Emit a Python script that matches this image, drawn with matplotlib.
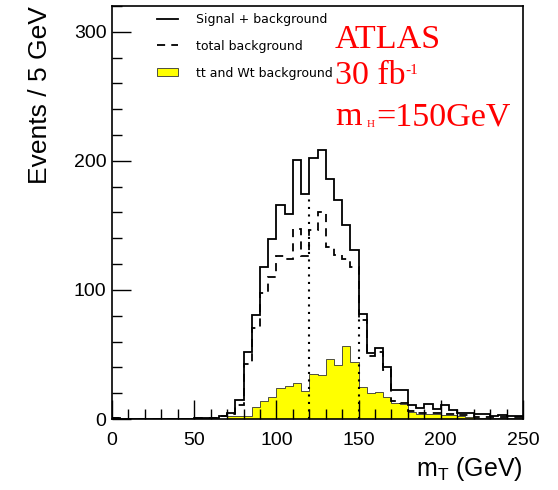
import numpy as np
import matplotlib
matplotlib.use("Agg")
import matplotlib.pyplot as plt
from matplotlib.ticker import MultipleLocator

# 5 GeV bins, 0 - 250 GeV
edges = np.arange(0, 255, 5)

sig_bkg = [1.0, 0, 0, 0, 0, 0, 0, 0, 0, 0,
           1.0, 1.0, 0.5, 2.5, 4.5, 15, 52, 80.5, 118, 139.5,
           166, 159, 201, 174, 202, 208.5, 186, 169.5, 150, 131,
           81, 51, 55, 40.5, 22.5, 22.5, 10.8, 8.3, 11.6, 7.5,
           10.8, 7, 4.9, 4.4, 3.6, 3.6, 2.3, 3, 2.3, 2.3]

tot_bkg = [1.0, 0, 0, 0, 0, 0, 0, 0, 0, 0,
           1.0, 1.0, 0.5, 2, 3.5, 10.8, 43, 70.8, 98, 110,
           126, 124, 147, 126, 146.5, 160, 133, 127, 124, 118,
           76.7, 49, 52, 38, 14, 12.5, 6, 4.4, 4.4, 4.4,
           4, 4, 3, 3, 1.8, 1.8, 1.5, 1.5, 1.5, 1.5]

tt_wt = [0, 0, 0, 0, 0, 0, 0, 0, 0, 0,
         1.0, 1.0, 0, 0, 2, 2.6, 2.6, 9, 14, 17.3,
         23.8, 25.7, 27.6, 22, 34.9, 34, 46.5, 41.9, 56.8, 44.4,
         25, 19.9, 21.2, 16.8, 12.6, 11.6, 5.7, 4, 4, 4,
         3, 3, 2, 1.5, 1, 1, 0.5, 0.5, 0.5, 0.5]

window = [120, 150]

fig = plt.figure(figsize=(5.58, 4.90), dpi=100)
ax = fig.add_axes([112/558, 1 - 419/490, 411/558, 413/490])

h_tt = ax.stairs(tt_wt, edges, fill=True, facecolor="#ffff00", edgecolor="#333333",
                 linewidth=0.6, label="tt and Wt background")
h_bkg = ax.stairs(tot_bkg, edges, color="black", linewidth=1.3,
                  linestyle=(0, (4.5, 3.4)), label="total background")
h_sb = ax.stairs(sig_bkg, edges, color="black", linewidth=1.3,
                 label="Signal + background")

# dotted mass window lines up to the lower neighbouring bin
sb = np.array(sig_bkg)
for w in window:
    i = int(w // 5)
    ax.vlines(w, 0, min(sb[i - 1], sb[i]), color="black", linewidth=1.5,
              linestyle=(0, (1.0, 2.6)))

ax.set_xlim(0, 250)
ax.set_ylim(0, 320)
ax.xaxis.set_major_locator(MultipleLocator(50))
ax.xaxis.set_minor_locator(MultipleLocator(10))
ax.yaxis.set_major_locator(MultipleLocator(100))
ax.yaxis.set_minor_locator(MultipleLocator(20))
ax.tick_params(which="both", direction="in", top=False, right=False)
ax.tick_params(which="major", length=14, width=1.0, labelsize=14)
ax.tick_params(which="minor", length=7.5, width=1.0)
ax.tick_params(axis="x", which="major", pad=9)
ax.tick_params(axis="y", which="major", pad=4)
for lab in ax.get_xticklabels() + ax.get_yticklabels():
    lab.set_family("Liberation Sans")
for s in ax.spines.values():
    s.set_linewidth(1.2)

ax.set_ylabel("Events / 5 GeV", loc="top", fontsize=19, family="Liberation Sans", labelpad=16)
ax.set_xlabel(r"m$_\mathregular{T}$ (GeV)", loc="right", fontsize=18,
              family="Liberation Sans", labelpad=5)

leg = ax.legend(handles=[h_sb, h_bkg, h_tt], loc="upper left",
                bbox_to_anchor=((157 - 112) / 411, (419 - 13) / 413),
                frameon=False, prop={"family": "DejaVu Sans", "size": 9},
                handlelength=1.7, handletextpad=1.45, labelspacing=1.1,
                borderpad=0, borderaxespad=0)

red = "#ff0000"
serif = "Liberation Serif"
x0 = (335 - 112) / 411
ax.text(x0, (419 - 48) / 413, "ATLAS", transform=ax.transAxes, color=red,
        fontsize=24.5, family=serif, va="baseline")
y2 = (419 - 84) / 413
t30 = ax.text(x0, y2, "30 fb", transform=ax.transAxes, color=red,
              fontsize=24.5, family=serif, va="baseline")
ax.annotate("-1", xy=(1, y2), xycoords=(t30, ax.transAxes), xytext=(0, 7),
            textcoords="offset points", color=red, fontsize=11, family=serif,
            va="baseline")
y3 = (419 - 125) / 413
tm = ax.text(x0, y3, "m", transform=ax.transAxes, color=red,
             fontsize=24.5, family=serif, va="baseline")
th = ax.annotate("H", xy=(1, y3), xycoords=(tm, ax.transAxes), xytext=(4, -1.5),
                 textcoords="offset points", color=red, fontsize=8, family=serif,
                 va="baseline")
ax.annotate("=150GeV", xy=(1, y3), xycoords=(th, ax.transAxes), xytext=(0.5, 0),
            textcoords="offset points", color=red, fontsize=24.5, family=serif,
            va="baseline")

fig.savefig("out.png", dpi=100)
